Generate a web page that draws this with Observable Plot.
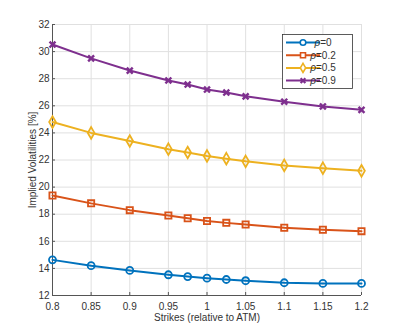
<!DOCTYPE html>
<html>
<head>
<meta charset="utf-8">
<script src="https://cdn.jsdelivr.net/npm/d3@7"></script>
<script src="https://cdn.jsdelivr.net/npm/@observablehq/plot@0.6"></script>
<style>
  html, body { margin: 0; padding: 0; background: #fff; }
  #chart svg { display: block; }
</style>
</head>
<body>
<div id="chart"></div>
<script>
const strikes = [0.8, 0.85, 0.9, 0.95, 0.975, 1.0, 1.025, 1.05, 1.1, 1.15, 1.2];
const rho0  = [14.63, 14.2, 13.85, 13.53, 13.4, 13.28, 13.18, 13.09, 12.94, 12.89, 12.89];
const rho02 = [19.38, 18.8, 18.3, 17.9, 17.7, 17.5, 17.36, 17.24, 17.0, 16.85, 16.75];
const rho05 = [24.8, 24.0, 23.4, 22.8, 22.55, 22.3, 22.1, 21.9, 21.6, 21.4, 21.2];
const rho09 = [30.52, 29.5, 28.6, 27.87, 27.57, 27.2, 26.98, 26.7, 26.3, 25.95, 25.7];
const seriesNames = ["ρ=0", "ρ=0.2", "ρ=0.5", "ρ=0.9"];
const seriesValues = [rho0, rho02, rho05, rho09];
const seriesColors = ["#0072BD", "#D95319", "#EDB120", "#7E2F8E"];
const seriesSymbols = ["circle", "square", "diamond", "times"];
const xTicks = [0.8, 0.85, 0.9, 0.95, 1.0, 1.05, 1.1, 1.15, 1.2];
const xTickLabels = ["0.8", "0.85", "0.9", "0.95", "1", "1.05", "1.1", "1.15", "1.2"];
const yTicks = [12, 14, 16, 18, 20, 22, 24, 26, 28, 30, 32];

const rows = [];
seriesNames.forEach((name, i) => {
  strikes.forEach((s, j) => rows.push({series: name, strike: s, vol: seriesValues[i][j]}));
});

const font = "'Liberation Sans', Arial, Helvetica, sans-serif";
const axisColor = "#555555";
const textColor = "#333333";

const marks = [
  Plot.gridX(xTicks, {stroke: "#e0e0e0", strokeOpacity: 1}),
  Plot.gridY(yTicks, {stroke: "#e0e0e0", strokeOpacity: 1}),
  Plot.ruleY([32], {stroke: "#e0e0e0"}),
  Plot.ruleX([1.2], {stroke: "#e0e0e0"}),
  Plot.axisX(xTicks, {tickSize: -3, tickPadding: 10, stroke: axisColor, color: textColor,
    tickFormat: (d) => xTickLabels[xTicks.indexOf(d)], fontSize: 10,
    label: "Strikes (relative to ATM)", labelAnchor: "center", labelArrow: "none", labelOffset: 25}),
  Plot.axisY(yTicks, {tickSize: -3, tickPadding: 6, stroke: axisColor, color: textColor, fontSize: 10,
    label: "Implied Volatilities [%]", labelAnchor: "center", labelArrow: "none", labelOffset: 24}),
  Plot.ruleX([0.8], {stroke: axisColor}),
  Plot.ruleY([12], {stroke: axisColor}),
];
seriesNames.forEach((name, i) => {
  const d = rows.filter(r => r.series === name);
  const isX = seriesSymbols[i] === "times";
  marks.push(Plot.line(d, {x: "strike", y: "vol", stroke: seriesColors[i], strokeWidth: 2}));
  marks.push(Plot.dot(d, {x: "strike", y: "vol", stroke: seriesColors[i], symbol: seriesSymbols[i],
    r: isX ? 2.8 : 3.5, strokeWidth: isX ? 2.4 : 1.8, fill: "none"}));
});

const chart = Plot.plot({
  width: 399,
  height: 332,
  marginLeft: 52,
  marginRight: 38,
  marginTop: 24,
  marginBottom: 37,
  style: {fontFamily: font, fontSize: "10px", color: textColor, background: "white"},
  x: {domain: [0.8, 1.2]},
  y: {domain: [12, 32]},
  marks
});

// Legend drawn inside the SVG, top-right of the plot area
const svg = d3.select(chart);
const lg = svg.append("g").attr("font-family", font).attr("font-size", 10);
const lx = 282, ly = 34, lw = 70, lh = 54;
lg.append("rect").attr("x", lx + 0.5).attr("y", ly + 0.5).attr("width", lw).attr("height", lh)
  .attr("fill", "white").attr("stroke", "#333").attr("stroke-width", 0.8);
seriesNames.forEach((name, i) => {
  const y = ly + 8.5 + i * 12.7;
  const isX = seriesSymbols[i] === "times";
  const g = lg.append("g");
  g.append("line").attr("x1", lx + 4).attr("x2", lx + 38).attr("y1", y).attr("y2", y)
    .attr("stroke", seriesColors[i]).attr("stroke-width", 2);
  const sym = d3.symbol().type({circle: d3.symbolCircle, square: d3.symbolSquare, diamond: d3.symbolDiamond, times: d3.symbolTimes}[seriesSymbols[i]])
    .size(isX ? 2.3*2.3*Math.PI : 2.8*2.8*Math.PI);
  g.append("path").attr("d", sym()).attr("transform", `translate(${lx + 21},${y})`)
    .attr("fill", "white").attr("stroke", seriesColors[i]).attr("stroke-width", isX ? 2.2 : 1.6);
  const t = g.append("text").attr("x", lx + 41).attr("y", y).attr("dy", "0.35em").attr("fill", textColor);
  t.append("tspan").attr("font-style", "italic").text(name.slice(0, 1));
  t.append("tspan").text(name.slice(1));
});

document.getElementById("chart").appendChild(chart);
</script>
</body>
</html>
